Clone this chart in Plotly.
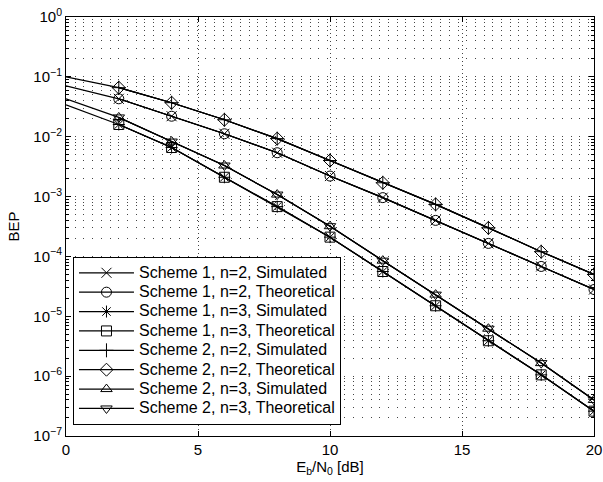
import plotly.graph_objects as go

# Eb/N0 [dB]
ebn0_theory = [0, 2, 4, 6, 8, 10, 12, 14, 16, 18, 20]
ebn0_sim = [2, 4, 6, 8, 10, 12, 14, 16, 18, 20]

# Theoretical BEP curves
s1_n2_theory = [0.071, 0.043, 0.022, 0.0112, 0.0054, 0.0022, 9.6e-4, 4.0e-4, 1.65e-4, 6.8e-5, 2.8e-5]
s1_n3_theory = [0.034, 0.016, 0.0066, 0.0021, 6.8e-4, 2.1e-4, 5.6e-5, 1.5e-5, 3.9e-6, 1.05e-6, 2.6e-7]
s2_n2_theory = [0.1, 0.066, 0.037, 0.0192, 0.0093, 0.004, 0.0017, 7.4e-4, 3.0e-4, 1.2e-4, 5.0e-5]
s2_n3_theory = [0.043, 0.021, 0.0083, 0.0033, 0.00108, 3.2e-4, 8.5e-5, 2.3e-5, 6.2e-6, 1.65e-6, 4.0e-7]

# Simulated BEP points
s1_n2_sim = [0.043, 0.022, 0.0112, 0.0054, 0.0022, 9.6e-4, 4.0e-4, 1.65e-4, 6.8e-5, 2.8e-5]
s1_n3_sim = [0.016, 0.0066, 0.0021, 6.8e-4, 2.1e-4, 5.6e-5, 1.5e-5, 3.9e-6, 1.05e-6, 2.6e-7]
s2_n2_sim = [0.066, 0.037, 0.0192, 0.0093, 0.004, 0.0017, 7.4e-4, 3.0e-4, 1.2e-4, 5.0e-5]
s2_n3_sim = [0.021, 0.0083, 0.0033, 0.00108, 3.2e-4, 8.5e-5, 2.3e-5, 6.2e-6, 1.65e-6, 4.0e-7]

y_tickvals = [1e0, 1e-1, 1e-2, 1e-3, 1e-4, 1e-5, 1e-6, 1e-7]
y_ticktext = ["10<sup>0</sup>", "10<sup>−1</sup>", "10<sup>−2</sup>", "10<sup>−3</sup>",
              "10<sup>−4</sup>", "10<sup>−5</sup>", "10<sup>−6</sup>", "10<sup>−7</sup>"]
x_tickvals = [0, 5, 10, 15, 20]

legend_names = [
    "Scheme 1, n=2, Simulated", "Scheme 1, n=2, Theoretical",
    "Scheme 1, n=3, Simulated", "Scheme 1, n=3, Theoretical",
    "Scheme 2, n=2, Simulated", "Scheme 2, n=2, Theoretical",
    "Scheme 2, n=3, Simulated", "Scheme 2, n=3, Theoretical",
]

series = [
    (ebn0_sim, s1_n2_sim, "x-thin-open"),
    (ebn0_sim, s1_n2_theory[1:], "circle-open"),
    (ebn0_sim, s1_n3_sim, "asterisk-open"),
    (ebn0_sim, s1_n3_theory[1:], "square-open"),
    (ebn0_sim, s2_n2_sim, "cross-thin-open"),
    (ebn0_sim, s2_n2_theory[1:], "diamond-open"),
    (ebn0_sim, s2_n3_sim, "triangle-up-open"),
    (ebn0_sim, s2_n3_theory[1:], "triangle-down-open"),
]

fig = go.Figure()

# full theoretical lines starting at 0 dB
for yv in [s1_n2_theory, s1_n3_theory, s2_n2_theory, s2_n3_theory]:
    fig.add_trace(go.Scatter(x=ebn0_theory, y=yv, mode="lines",
                             line=dict(color="black", width=1.2),
                             showlegend=False, hoverinfo="skip"))

for name, (xs, ys, sym) in zip(legend_names, series):
    fig.add_trace(go.Scatter(
        x=xs, y=ys, mode="lines+markers",
        name='<span style="font-size:16px">' + name + "</span>",
        line=dict(color="black", width=1.2),
        marker=dict(symbol=sym, size=10, color="black",
                    line=dict(color="black", width=1)),
    ))

minor_vals = [k * 10.0 ** e for e in range(-7, 0) for k in range(2, 10)]

grid_color = "#444444"
fig.update_layout(
    width=603, height=482,
    margin=dict(l=66, r=9, t=17, b=46),
    paper_bgcolor="white", plot_bgcolor="white",
    font=dict(family="Liberation Sans, Arial, sans-serif", size=15, color="black"),
    showlegend=True,
    legend=dict(x=0.0132, y=0.026, xanchor="left", yanchor="bottom",
                bgcolor="white", bordercolor="black", borderwidth=1,
                font=dict(size=12.6), tracegroupgap=0, itemwidth=55),
    xaxis=dict(range=[0, 20], tickmode="array", tickvals=x_tickvals,
               ticks="inside", ticklen=5, tickcolor="black", automargin=False,
               showline=True, linecolor="black", linewidth=1, mirror="allticks",
               showgrid=True, gridcolor=grid_color, gridwidth=1, griddash="1px,3px",
               zeroline=False, tickfont=dict(size=15),
               title=dict(text="E<sub>b</sub>/N<sub>0</sub> [dB]", standoff=0,
                          font=dict(size=15))),
    yaxis=dict(type="log", range=[-7, 0], tickmode="array",
               tickvals=y_tickvals, ticktext=y_ticktext, automargin=False,
               ticks="inside", ticklen=5, tickcolor="black",
               showline=True, linecolor="black", linewidth=1, mirror="allticks",
               showgrid=True, gridcolor=grid_color, gridwidth=1, griddash="1px,7.7px",
               zeroline=False, tickfont=dict(size=15),
               minor=dict(tickmode="array", tickvals=minor_vals, ticks="inside",
                          ticklen=3, tickcolor="black", showgrid=True,
                          gridcolor=grid_color, gridwidth=1, griddash="1px,7.7px"),
               title=dict(text="BEP", standoff=10, font=dict(size=15))),
)

fig.write_html("out.html", config={"displayModeBar": False},
               post_script="document.body.style.margin='0px';")
